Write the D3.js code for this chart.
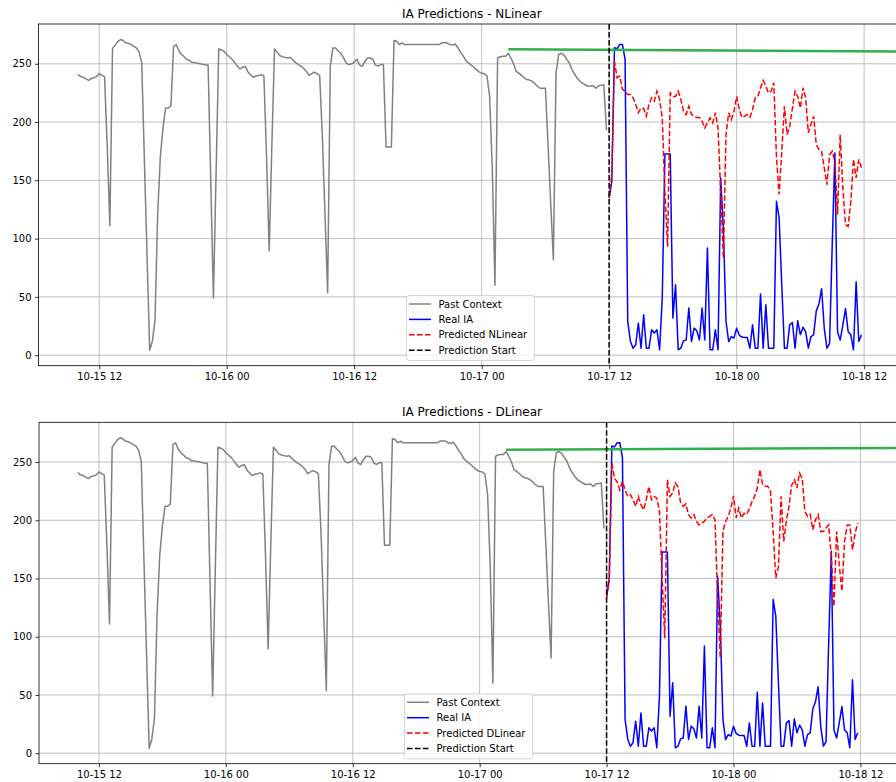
<!DOCTYPE html>
<html lang='en'>
  <head>
    <meta charset='utf-8'>
    <style type='text/css'>
      body {margin: 0; background-color: #fff;}
      svg {display: block; font-family: 'DejaVu Sans', sans-serif;}
    </style>
  </head>
  <body>

    <svg id='chart' width='896' height='782'></svg>

    <script src='https://d3js.org/d3.v7.min.js'></script>
    <script type='text/javascript'>
        // ---- values (15 minute steps) ----
        var contextStart = "2024-10-15 10:00";
        var predictionStart = "2024-10-17 12:00";
        var stepMinutes = 15;

        var pastContext = [
          241, 239, 238.5, 237, 235.8, 237.5, 238, 239, 241.5, 240,
          239, 180, 111, 263, 266, 269, 270.8, 270, 268, 267.5,
          266.5, 265, 263.6, 260, 251, 168, 86, 4.3, 12, 30,
          120, 170, 195, 212, 212, 214, 265, 266.5, 261, 258,
          256, 253.6, 253, 251, 251, 250.5, 250, 249.5, 249, 249,
          149, 49, 156, 262.7, 262, 260.7, 258, 256, 254, 251,
          248, 245.6, 247, 247.8, 243, 240.5, 238.4, 239.5, 240, 240.7,
          239.5, 170, 89.4, 180, 262.7, 260, 257, 256, 255.5, 255,
          255.5, 253, 251, 249.3, 248, 246, 243.5, 240, 241.5, 242.7,
          241.5, 239.8, 189, 121, 53.6, 248, 263.6, 263.5, 261, 259,
          255, 250.7, 249.3, 250, 251.3, 254, 249, 247.8, 252, 255,
          255, 254, 249, 248, 249.3, 249.3, 178.5, 178.5, 178.5, 270,
          269.3, 266.5, 268, 266.5, 266.5, 266.5, 266.5, 266.5, 266.5, 266.5,
          266.5, 266.5, 266.5, 266.5, 266.5, 266.5, 266.5, 268, 268, 268,
          266.5, 266, 267, 264, 260, 257, 253, 250.7, 249, 247,
          245, 243, 242, 241.5, 239.5, 222, 160, 60, 255, 256,
          256.4, 256.4, 259, 255, 250, 243.5, 242, 240, 238, 236.5,
          236, 235, 233, 230.7, 229, 229, 229, 180, 130, 81.7,
          242, 258, 259, 257.5, 254, 250.7, 245, 241, 237.5, 235,
          233.5, 232, 230.7, 231, 231.2, 229, 231.2, 231.5, 232, 193
        ];

        var realIA = [
          135, 149, 263.7, 263, 266.6, 266.6, 253.7, 29, 12, 6,
          9, 27.5, 6, 34.6, 6, 6, 21.8, 19, 21.8, 4.6,
          49, 172.7, 172.7, 172.7, 31.8, 60.4, 4.6, 6, 12.3, 13,
          40.4, 11.7, 23.2, 21, 13, 40.4, 13, 92, 4.6, 4.6,
          21.8, 4.6, 152, 109, 29, 11.7, 16, 14.6, 23.2, 17,
          15.5, 15.2, 15.2, 6, 26, 6, 6, 52.4, 6, 43.2,
          6, 6, 6, 132, 117.7, 60, 6, 6, 26, 28,
          6, 29.5, 17.5, 24, 20, 6, 16, 17.5, 38, 44,
          57, 23, 6, 10, 95, 173.5, 20, 13, 26, 40,
          20, 17.5, 4.6, 63, 11.7, 17.5
        ];

        var predNLinear = [
          135, 155, 252, 238, 239.4, 228, 226.5, 223.6, 223.6, 220.8,
          215, 208, 212, 211.6, 205, 215, 220.8, 218, 226.5, 219.4,
          203.6, 140, 93, 225, 222, 222, 226.5, 219.4, 209.3, 206.4,
          213.6, 206.4, 205, 204, 204, 200.7, 195, 199.3, 203.6, 199.3,
          208, 195, 140, 83.3, 189, 208, 202, 209, 222, 211,
          204, 205, 206.5, 204, 210.8, 220.8, 222, 229.4, 235.7, 230.8,
          225, 226.5, 233.7, 170, 138, 175, 213.6, 189.3, 196.5, 212,
          226.5, 222, 212, 229.4, 220.8, 190.7, 198, 205, 180.7, 176.4,
          175, 160.7, 146.3, 172, 175, 166.4, 120.6, 189, 143.5, 112,
          110.5, 132, 168, 152, 168, 160.7
        ];

        var predDLinear = [
          133, 147.5, 249, 236, 233, 226, 233.4, 226, 220.5, 222,
          217.6, 212, 220.5, 213.4, 209, 217.6, 229, 217.6, 220.5, 219,
          207.6, 150, 98.8, 234.8, 220.5, 223.4, 232, 229, 214.8, 212,
          214, 204.8, 202, 204.8, 199, 196, 197.6, 199, 202, 203.3,
          204.8, 200.5, 133, 81.6, 190.4, 199, 203.3, 210.5, 221, 202,
          210.5, 202, 206, 205, 210, 216, 220.5, 227.7, 243.4, 230.5,
          229.5, 229, 225, 190, 150.3, 160, 220.5, 181.8, 200, 212,
          230, 235, 227.7, 240.5, 236, 207.6, 203.3, 205, 191.9, 200.5,
          204.8, 190.4, 190.4, 193.3, 196, 167.5, 126, 190.4, 161.8, 139,
          181.8, 196, 196, 174.7, 189, 197.6
        ];

        // the thick green reference level (not in the legend)
        var levelTimes = ["2024-10-17 02:30", "2024-10-18 16:00"];
        var levelNLinear = [262.5, 260.5];
        var levelDLinear = [260.6, 262.1];

        var yTicks = [0, 50, 100, 150, 200, 250];
        var legendLabels = ["Past Context", "Real IA", null, "Prediction Start"];

        var parseTime = d3.timeParse("%Y-%m-%d %H:%M");
        var fmtTick = d3.timeFormat("%m-%d %H");

        var panels = [
          {title: "IA Predictions - NLinear", predLabel: "Predicted NLinear", pred: predNLinear, level: levelNLinear,
           top: 24, bottom: 365.7, left: 38.5, right: 905,
           xFrom: "2024-10-15 06:17", xTo: "2024-10-18 15:51", legendX: 406, legendY: 295},
          {title: "IA Predictions - DLinear", predLabel: "Predicted DLinear", pred: predDLinear, level: levelDLinear,
           top: 422.3, bottom: 763.7, left: 39, right: 905,
           xFrom: "2024-10-15 06:20", xTo: "2024-10-18 16:13", legendX: 404, legendY: 693.3}
        ];

        var t0 = parseTime(contextStart);
        var tp = parseTime(predictionStart);
        var pastSeries = pastContext.map(function(v, i) {
            return {t: d3.timeMinute.offset(t0, i * stepMinutes), v: v};
        });
        function predSeries(arr) {
            return arr.map(function(v, i) {
                return {t: d3.timeMinute.offset(tp, i * stepMinutes), v: v};
            });
        }

        var svg = d3.select("#chart");
        svg.append("rect").attr("width", 896).attr("height", 782).attr("fill", "#fff");

        panels.forEach(function(p, k) {
            var x = d3.scaleTime()
                .domain([parseTime(p.xFrom), parseTime(p.xTo)])
                .range([p.left, p.right]);

            // y limits with matplotlib-like 5% margins
            var all = pastContext.concat(realIA, p.pred, p.level);
            var lo = d3.min(all), hi = d3.max(all), pad = (hi - lo) * 0.05;
            var y = d3.scaleLinear().domain([lo - pad, hi + pad]).range([p.bottom, p.top]);

            var g = svg.append("g");
            var clipId = "clip" + k;
            svg.append("clipPath").attr("id", clipId)
              .append("rect")
                .attr("x", p.left).attr("y", p.top)
                .attr("width", p.right - p.left).attr("height", p.bottom - p.top);

            // grid
            var xTicks = x.ticks(d3.timeHour.every(12));
            g.append("g").selectAll("line").data(xTicks).enter().append("line")
                .attr("x1", function(d) { return x(d); }).attr("x2", function(d) { return x(d); })
                .attr("y1", p.top).attr("y2", p.bottom)
                .attr("stroke", "#b0b0b0").attr("stroke-width", 0.8);
            g.append("g").selectAll("line").data(yTicks).enter().append("line")
                .attr("x1", p.left).attr("x2", p.right)
                .attr("y1", function(d) { return y(d); }).attr("y2", function(d) { return y(d); })
                .attr("stroke", "#b0b0b0").attr("stroke-width", 0.8);

            var line = d3.line()
                .x(function(d) { return x(d.t); })
                .y(function(d) { return y(d.v); });

            var plot = g.append("g").attr("clip-path", "url(#" + clipId + ")");

            plot.append("path").datum(pastSeries)
                .attr("d", line).attr("fill", "none")
                .attr("stroke", "#808080").attr("stroke-width", 1.5).attr("stroke-linejoin", "round");

            plot.append("path").datum(predSeries(realIA))
                .attr("d", line).attr("fill", "none")
                .attr("stroke", "#0000ff").attr("stroke-width", 1.5).attr("stroke-linejoin", "round");

            plot.append("path").datum(predSeries(p.pred))
                .attr("d", line).attr("fill", "none")
                .attr("stroke", "#ff0000").attr("stroke-width", 1.5)
                .attr("stroke-dasharray", "5.55,2.4");

            plot.append("path")
                .datum(levelTimes.map(function(s, i) { return {t: parseTime(s), v: p.level[i]}; }))
                .attr("d", line).attr("fill", "none")
                .attr("stroke", "#2fb04a").attr("stroke-width", 2.5);

            plot.append("line")
                .attr("x1", x(tp)).attr("x2", x(tp))
                .attr("y1", p.top).attr("y2", p.bottom)
                .attr("stroke", "#000").attr("stroke-width", 1.5)
                .attr("stroke-dasharray", "5.55,2.4");

            // axes
            var xAxis = d3.axisBottom(x).tickValues(xTicks).tickFormat(fmtTick)
                .tickSize(3.5).tickPadding(3.5);
            var yAxis = d3.axisLeft(y).tickValues(yTicks)
                .tickSize(3.5).tickPadding(3.5);

            var gx = g.append("g").attr("transform", "translate(0," + p.bottom + ")").call(xAxis);
            var gy = g.append("g").attr("transform", "translate(" + p.left + ",0)").call(yAxis);
            [gx, gy].forEach(function(a) {
                a.select(".domain").remove();
                a.selectAll("line").attr("stroke", "#000").attr("stroke-width", 0.8);
                a.selectAll("text").attr("font-size", "10px").attr("font-family", "DejaVu Sans").attr("fill", "#000");
            });

            g.append("rect")
                .attr("x", p.left).attr("y", p.top)
                .attr("width", p.right - p.left).attr("height", p.bottom - p.top)
                .attr("fill", "none").attr("stroke", "#000").attr("stroke-width", 0.8);

            g.append("text")
                .attr("x", (p.left + p.right) / 2).attr("y", p.top - 6)
                .attr("text-anchor", "middle")
                .style("font-size", "12px")
                .text(p.title);

            // legend
            var items = [
              {label: legendLabels[0], color: "#808080", dash: null},
              {label: legendLabels[1], color: "#0000ff", dash: null},
              {label: p.predLabel, color: "#ff0000", dash: "5.55,2.4"},
              {label: legendLabels[3], color: "#000", dash: "5.55,2.4"}
            ];
            var lg = g.append("g").attr("transform", "translate(" + p.legendX + "," + p.legendY + ")");
            lg.append("rect")
                .attr("x", 0.5).attr("y", 0.5).attr("width", 128).attr("height", 65)
                .attr("rx", 2.5)
                .attr("fill", "#fff").attr("fill-opacity", 0.8)
                .attr("stroke", "#d6d6d6").attr("stroke-width", 1);
            var row = lg.selectAll("g.item").data(items).enter().append("g")
                .attr("class", "item")
                .attr("transform", function(d, i) { return "translate(0," + (9 + i * 15.4) + ")"; });
            row.append("line")
                .attr("x1", 3).attr("x2", 25)
                .attr("stroke", function(d) { return d.color; })
                .attr("stroke-width", 1.5)
                .attr("stroke-dasharray", function(d) { return d.dash; });
            row.append("text")
                .attr("x", 32.5).attr("dy", "0.35em")
                .style("font-size", "10px")
                .text(function(d) { return d.label; });
        });
    </script>
  </body>
</html>
